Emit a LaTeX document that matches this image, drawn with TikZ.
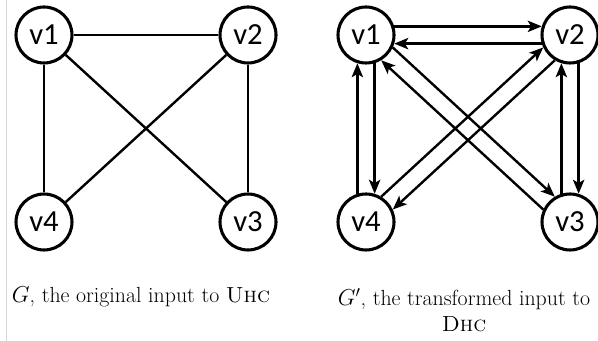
\documentclass[tikz,border=0pt]{standalone}
\usepackage{fontspec}
\newfontfamily\vertexfont{Carlito}
\usetikzlibrary{arrows.meta}

\tikzset{
  vert/.style={draw, circle, line width=2.3pt, minimum size=42pt, inner sep=0pt, font=\vertexfont\fontsize{23}{23}\selectfont},
  edge/.style={line width=1.8pt},
  arc/.style={line width=1.8pt, -{Stealth[length=10.5pt,width=8.5pt,inset=2.5pt]}},
  caption/.style={font=\fontsize{16.4}{19}\selectfont}
}

\begin{document}
\begin{tikzpicture}[x=0.75pt,y=0.75pt,yscale=-1,xscale=1]
\useasboundingbox (0,0) rectangle (598,341);

%Shape: Line [margin]
\draw [color={rgb, 255:red, 215; green, 215; blue, 215 }, line width=0.6pt] (6,0) -- (6,341) ;

% Graph G
\draw (44,35) node [vert] (a1) {v1};
\draw (248,35) node [vert] (a2) {v2};
\draw (248,222) node [vert] (a3) {v3};
\draw (44,222) node [vert] (a4) {v4};

\draw [edge] (a1) -- (a2) ;
\draw [edge] (a1) -- (a4) ;
\draw [edge] (a2) -- (a3) ;
\draw [edge] (a1) -- (a3) ;
\draw [edge] (a2) -- (a4) ;

% Graph G'
\draw (366,35) node [vert] (b1) {v1};
\draw (570,35) node [vert] (b2) {v2};
\draw (570,222) node [vert] (b3) {v3};
\draw (366,222) node [vert] (b4) {v4};

\draw [arc] (b1.17) -- (b2.163) ;
\draw [arc] (b2.197) -- (b1.-17) ;
\draw [arc] (b1.-73) -- (b4.73) ;
\draw [arc] (b4.107) -- (b1.-107) ;
\draw [arc] (b2.-73) -- (b3.73) ;
\draw [arc] (b3.107) -- (b2.-107) ;
\draw [arc] (b1.-25.4) -- (b3.121.0) ;
\draw [arc] (b3.155.0) -- (b1.-59.4) ;
\draw [arc] (b4.59.4) -- (b2.205.4) ;
\draw [arc] (b2.239.0) -- (b4.25.0) ;

% Text Node
\draw (141,297) node [caption] (capG) {$G$, the original input to \textsc{Uhc}};
% Text Node
\draw (464,310) node [caption, align=center] (capH) {$G'$, the transformed input to\\\textsc{Dhc}};

\end{tikzpicture}
\end{document}
